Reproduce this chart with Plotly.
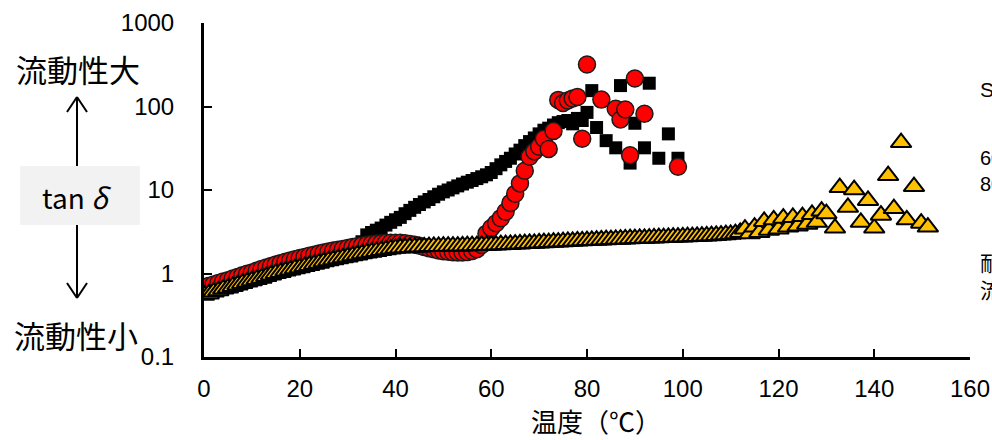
import plotly.graph_objects as go

# ---------------- data ----------------
black_x = list(range(0, 81)) + [81, 82, 84, 86, 87, 89, 90, 92, 93, 95, 97, 99]
black_y = [0.66, 0.69, 0.72, 0.75, 0.78, 0.81, 0.85, 0.89, 0.93, 0.97,
           1.01, 1.06, 1.11, 1.16, 1.21, 1.26, 1.31, 1.36, 1.41, 1.46,
           1.51, 1.56, 1.61, 1.66, 1.71, 1.76, 1.81, 1.86, 1.91, 1.96,
           2.01, 2.07, 2.15, 2.40, 2.9, 3.1, 3.3, 3.5, 3.8, 4.1,
           4.4, 4.7, 5.2, 5.7, 6.2, 6.7, 7.2, 7.7, 8.3, 8.9,
           9.5, 10.0, 10.6, 11.2, 11.8, 12.4, 13.0, 13.7, 14.4, 15.2,
           16.2, 18.0, 20.0, 22.0, 24.0, 27.0, 30.0, 34.0, 38.0, 42.0,
           47.0, 52.0, 55.0, 60.0, 64.0, 66.0, 68.0, 62.0, 72.0, 68.0,
           85.0,
           155.0, 56.0, 39.0, 32.0, 178.0, 21.0, 63.0, 32.0, 190.0, 24.0, 47.0, 24.0]

red_x = list(range(0, 81)) + [83, 86, 87, 88, 89, 90, 92, 99]
red_y = [0.68, 0.71, 0.74, 0.77, 0.80, 0.83, 0.87, 0.91, 0.95, 0.99,
         1.03, 1.08, 1.13, 1.18, 1.23, 1.28, 1.33, 1.38, 1.43, 1.48,
         1.53, 1.58, 1.63, 1.68, 1.73, 1.78, 1.83, 1.88, 1.93, 1.97,
         2.02, 2.07, 2.12, 2.17, 2.21, 2.25, 2.28, 2.31, 2.33, 2.34,
         2.34, 2.33, 2.30, 2.26, 2.21, 2.15, 2.08, 2.01, 1.95, 1.89,
         1.85, 1.82, 1.80, 1.79, 1.79, 1.81, 1.86, 1.95, 2.2, 3.0,
         3.5, 4.0, 4.6, 5.5, 7.0, 9.0, 12.0, 17.0, 25.0, 29.0,
         33.0, 41.0, 31.0, 51.0, 120.0, 110.0, 118.0, 125.0, 130.0, 41.0,
         318.0,
         121.0, 94.0, 70.0, 92.0, 26.0, 216.0, 82.0, 19.0]

yellow_x = list(range(0, 131)) + [131.8, 132.8, 134.5, 135.8, 137.2, 138.7, 140.0,
                                  141.4, 142.9, 144.1, 145.6, 146.8, 148.3, 149.8, 151.2]
yellow_y = [0.55, 0.57, 0.60, 0.62, 0.65, 0.67, 0.70, 0.73, 0.76, 0.79,
            0.82, 0.85, 0.88, 0.92, 0.96, 1.00, 1.03, 1.07, 1.10, 1.14,
            1.17, 1.21, 1.25, 1.29, 1.33, 1.38, 1.42, 1.46, 1.50, 1.54,
            1.58, 1.63, 1.67, 1.72, 1.76, 1.80, 1.84, 1.88, 1.92, 1.96,
            2.00, 2.02, 2.04, 2.05, 2.07, 2.08, 2.09, 2.10, 2.11, 2.11,
            2.12, 2.12, 2.13, 2.13, 2.14, 2.15, 2.15, 2.16, 2.17, 2.17,
            2.18, 2.19, 2.21, 2.22, 2.23, 2.25, 2.26, 2.28, 2.29, 2.30,
            2.32, 2.34, 2.35, 2.37, 2.38, 2.40, 2.42, 2.43, 2.45, 2.46,
            2.48, 2.49, 2.51, 2.52, 2.54, 2.55, 2.57, 2.58, 2.59, 2.61,
            2.62, 2.63, 2.64, 2.66, 2.67, 2.68, 2.69, 2.70, 2.72, 2.73,
            2.74, 2.76, 2.77, 2.78, 2.80, 2.82, 2.84, 2.86, 2.89, 2.92,
            2.95, 3.0, 3.1, 3.4, 3.0, 3.6, 3.1, 4.2, 3.3, 4.4,
            3.4, 4.6, 3.6, 4.7, 3.7, 4.8, 3.9, 5.1, 4.1, 5.6,
            5.2,
            3.5, 10.7, 6.2, 10.1, 4.1, 7.5, 3.5, 5.0, 14.9, 6.0, 37.0, 4.4, 11.0, 4.0, 3.6]

x_ticks = [0, 20, 40, 60, 80, 100, 120, 140, 160]
y_ticks = [0.1, 1, 10, 100, 1000]
y_ticktext = ["0.1", "1", "10", "100", "1000"]
x_title = "温度（℃）"
label_high = "流動性大"
label_low = "流動性小"
label_mid = "tan <i>δ</i>"
side_label_1 = "SBR系"
side_label_2 = "60℃<br>80℃"
side_label_3 = "耐熱性<br>流動性"

# ---------------- figure ----------------
W, H = 992, 440
L, R, T, B = 204, 22, 23, 83
PW, PH = W - L - R, H - T - B


def px(x):
    return (x - L) / PW


def py(y):
    return (H - B - y) / PH


fig = go.Figure()
fig.add_trace(go.Scatter(x=black_x, y=black_y, mode="markers", name="black",
                         marker=dict(symbol="square", size=13, color="#000000",
                                     line=dict(width=0))))
fig.add_trace(go.Scatter(x=red_x, y=red_y, mode="markers", name="red",
                         marker=dict(symbol="circle", size=17, color="#FF0000",
                                     line=dict(width=1.5, color="#1a1a1a"))))
fig.add_trace(go.Scatter(x=yellow_x, y=yellow_y, mode="markers", name="yellow",
                         marker=dict(symbol="triangle-up", size=18, color="#FFC000",
                                     line=dict(width=2, color="#000000"))))

tickfont = dict(family="Liberation Sans, Arial, sans-serif", size=24, color="#000000")
fig.update_xaxes(range=[0, 160], tickvals=x_ticks, ticktext=[str(v) for v in x_ticks],
                 showgrid=False, zeroline=False, showline=True, linecolor="#000000",
                 linewidth=3, ticks="inside", ticklen=8, tickwidth=2, tickcolor="#000000",
                 tickfont=tickfont, ticklabelstandoff=8, automargin=False)
fig.update_yaxes(type="log", range=[-1, 3], tickvals=y_ticks, ticktext=y_ticktext,
                 showgrid=False, zeroline=False, showline=True, linecolor="#000000",
                 linewidth=3, ticks="inside", ticklen=8, tickwidth=2, tickcolor="#000000",
                 tickfont=tickfont, ticklabelstandoff=22, automargin=False)

cjk = "Noto Sans CJK JP"
ann = []
ann.append(dict(x=px(596), y=py(420), xref="paper", yref="paper", text=x_title,
                showarrow=False, font=dict(family=cjk, size=26, color="#000000"),
                xanchor="center", yanchor="middle"))
ann.append(dict(x=px(78), y=py(68), xref="paper", yref="paper", text=label_high,
                showarrow=False, font=dict(family=cjk, size=31, color="#000000"),
                xanchor="center", yanchor="middle"))
ann.append(dict(x=px(76), y=py(334), xref="paper", yref="paper", text=label_low,
                showarrow=False, font=dict(family=cjk, size=31, color="#000000"),
                xanchor="center", yanchor="middle"))
ann.append(dict(x=px(77), y=py(197), xref="paper", yref="paper", text=label_mid,
                showarrow=False, font=dict(family=cjk, size=28, color="#000000"),
                xanchor="center", yanchor="middle"))
ann.append(dict(x=px(978), y=py(90), xref="paper", yref="paper", text=side_label_1,
                showarrow=False, font=dict(family="Liberation Sans, Arial", size=21, color="#000000"),
                xanchor="left", yanchor="middle", align="left"))
ann.append(dict(x=px(978), y=py(171), xref="paper", yref="paper", text=side_label_2,
                showarrow=False, font=dict(family="Liberation Sans, Arial", size=20, color="#000000"),
                xanchor="left", yanchor="middle", align="left"))
ann.append(dict(x=px(978), y=py(275), xref="paper", yref="paper", text=side_label_3,
                showarrow=False, font=dict(family=cjk, size=21, color="#000000"),
                xanchor="left", yanchor="middle", align="left"))

shapes = []
shapes.append(dict(type="rect", xref="paper", yref="paper",
                   x0=px(20), x1=px(140), y0=py(225), y1=py(166),
                   fillcolor="#F2F2F2", line=dict(width=0), layer="below"))
ax = 77


def seg(x0, y0, x1, y1):
    return dict(type="line", xref="paper", yref="paper",
                x0=px(x0), y0=py(y0), x1=px(x1), y1=py(y1),
                line=dict(color="#000000", width=2))


shapes += [seg(ax, 97, ax, 166), seg(ax - 10, 112, ax, 97), seg(ax + 10, 112, ax, 97),
           seg(ax, 225, ax, 298), seg(ax - 10, 283, ax, 298), seg(ax + 10, 283, ax, 298)]

fig.update_layout(width=W, height=H, margin=dict(l=L, r=R, t=T, b=B, autoexpand=False),
                  paper_bgcolor="#FFFFFF", plot_bgcolor="#FFFFFF", showlegend=False,
                  annotations=ann, shapes=shapes)

fig.write_html("out.html", config={"displayModeBar": False},
               post_script="document.body.style.margin='0';document.body.style.overflow='hidden';")
